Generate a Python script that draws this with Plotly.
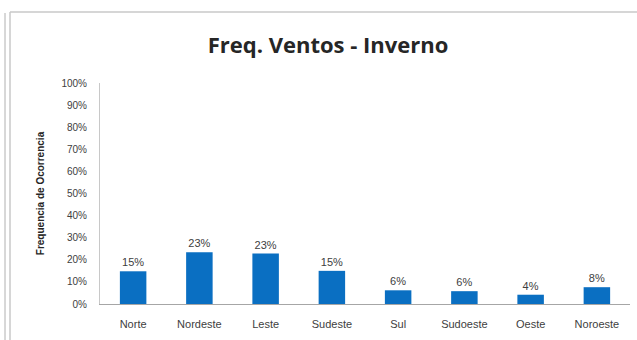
import plotly.graph_objects as go

categories = ["Norte", "Nordeste", "Leste", "Sudeste", "Sul", "Sudoeste", "Oeste", "Noroeste"]
values = [0.148, 0.234, 0.228, 0.150, 0.062, 0.058, 0.042, 0.076]
title_text = "Freq. Ventos - Inverno"
y_title = "Frequencia de Ocorrencia"

W, H = 637, 340
L, R, T, B = 100, 7, 83, 36
pw = W - L - R
ph = H - T - B

def px_x(x):
    return (x - L) / pw

def px_y(y):
    return (H - B - y) / ph

fig = go.Figure()
fig.add_trace(go.Bar(
    x=categories, y=values,
    marker=dict(color="#0a6fc2", line=dict(width=0)),
    width=0.4,
    texttemplate="%{y:.0%}", textposition="outside",
    textfont=dict(family="Liberation Sans Narrow, Arial", size=11, color="#404040"),
    cliponaxis=False,
))

frame_color = "#c8c8c8"
shapes = [
    dict(type="line", xref="paper", yref="paper", x0=px_x(10), x1=px_x(640), y0=px_y(12), y1=px_y(12),
         line=dict(color=frame_color, width=1.5)),
    dict(type="line", xref="paper", yref="paper", x0=px_x(10), x1=px_x(10), y0=px_y(12), y1=px_y(345),
         line=dict(color=frame_color, width=1.5)),
    dict(type="line", xref="paper", yref="paper", x0=px_x(5), x1=px_x(5), y0=px_y(13), y1=px_y(345),
         line=dict(color="#b0b0b0", width=1)),
]

fig.update_layout(
    width=W, height=H,
    margin=dict(l=L, r=R, t=T, b=B),
    paper_bgcolor="white", plot_bgcolor="white",
    showlegend=False,
    title=dict(text="<b>" + title_text + "</b>", x=px_x(328), xref="paper", xanchor="center",
               y=1 - 45 / H, yanchor="middle",
               font=dict(family="Open Sans, Arial", size=22, color="#262626")),
    shapes=shapes,
    bargap=0.6,
)
fig.update_xaxes(
    showline=True, linecolor="#a6a6a6", linewidth=1,
    ticks="", showgrid=False, ticklabelstandoff=10,
    tickfont=dict(family="Liberation Sans Narrow, Arial", size=11, color="#404040"),
)
fig.update_yaxes(
    range=[0, 1], dtick=0.1, tickformat=".0%",
    showline=True, linecolor="#c8c8c8", linewidth=1,
    ticks="", showgrid=False, zeroline=False, ticklabelstandoff=10,
    tickfont=dict(family="Liberation Sans Narrow, Arial", size=10, color="#404040"),
    title=dict(text="<b>" + y_title + "</b>", standoff=14,
               font=dict(family="Liberation Sans Narrow, Arial", size=10, color="#262626")),
)

fig.write_html("out.html")
